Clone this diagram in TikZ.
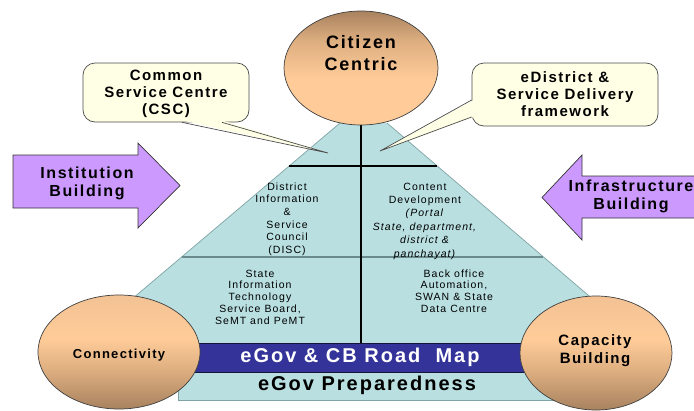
\documentclass[tikz,border=0pt]{standalone}
\usepackage{fontspec}
\setmainfont{Liberation Sans}
\newfontfamily\headfont[LetterSpace=10]{Liberation Sans}
\newfontfamily\lblfont[LetterSpace=10]{Liberation Sans}
\usetikzlibrary{shapes.geometric,calc}

\definecolor{pyr}{HTML}{B9DFE1}
\definecolor{pyredge}{HTML}{7FA3A5}
\definecolor{midline}{HTML}{6A8A8C}
\definecolor{bandblue}{HTML}{333399}
\definecolor{arrowfill}{HTML}{CC99FF}
\definecolor{notefill}{HTML}{FFFFE6}
\definecolor{peach}{HTML}{FFCC99}
\definecolor{peachlt}{HTML}{F2C294}
\definecolor{ochre}{HTML}{DDAE80}
\definecolor{clay}{HTML}{A8825F}

% vertical shadings for the three balls (0bp = bottom, 100bp = top)
\pgfdeclareverticalshading{topdark}{100bp}{color(0bp)=(peach); color(25bp)=(peach); color(45bp)=(peach); color(62bp)=(ochre); color(75bp)=(clay); color(100bp)=(clay)}
\pgfdeclareverticalshading{bottomdark}{100bp}{color(0bp)=(clay); color(25bp)=(clay); color(42bp)=(ochre); color(56bp)=(peach); color(75bp)=(peachlt); color(100bp)=(peachlt)}

\begin{document}
\begin{tikzpicture}[x=1pt,y=-1pt,
  ball/.style={ellipse, draw=black!75, line width=0.7pt, inner sep=0pt},
  note/.style={draw=black!70, fill=notefill, rounded corners=12pt, line width=0.7pt, inner sep=0pt},
  notetext/.style={align=center, font=\headfont\bfseries\fontsize{15}{17}\selectfont},
  arrowshape/.style={fill=arrowfill, draw=black!80, line width=0.7pt},
  arrowtext/.style={align=center, font=\headfont\bfseries\fontsize{16}{18}\selectfont},
  celltext/.style={align=center, text=black},
  divider/.style={black, line width=1.2pt},
]
\useasboundingbox (0,0) rectangle (694,410);

% pyramid body
\fill[pyr] (340,123) -- (387,123) -- (644,343) -- (80,343) -- cycle;
\draw[pyredge, line width=0.7pt] (340,123) -- (80,343);
\draw[pyredge, line width=0.7pt] (387,123) -- (644,343);
\filldraw[fill=pyr, draw=pyredge, line width=0.7pt] (178,372) rectangle (565,400);

% dividers inside the pyramid
\draw[divider] (289,166) -- (437,166);
\draw[midline, line width=1.4pt] (182,257) -- (543,257);
\draw[divider] (361,123) -- (361,343);

% road map band
\filldraw[fill=bandblue, draw=black!60!bandblue, line width=0.8pt] (150,343) rectangle (565,372);
\node[text=white, font=\headfont\bfseries\fontsize{20}{22}\selectfont] (roadmap) at (360,357) {eGov \& CB Road\ \ Map};
\node[font=\headfont\bfseries\fontsize{20}{22}\selectfont] (prep) at (367,385) {eGov Preparedness};

% cell texts
\node[celltext, font=\lblfont\fontsize{10.5}{12.6}\selectfont] (disc) at (287,219) {District\\Information\\\&\\Service\\Council\\(DISC)};
\node[celltext, font=\lblfont\fontsize{10.5}{13.4}\selectfont] (content) at (425,221) {Content\\Development\\\textit{(Portal}\\\textit{State, department,}\\\textit{district \&}\\\textit{panchayat)}};
\node[celltext, font=\lblfont\fontsize{10.5}{11.8}\selectfont] (sitsb) at (260,297) {State\\Information\\Technology\\Service Board,\\SeMT and PeMT};
\node[celltext, font=\lblfont\fontsize{10.5}{11.8}\selectfont] (backoffice) at (454,291) {Back office\\Automation,\\SWAN \& State\\Data Centre};

% the three balls
\node[ball, shading=topdark, minimum width=154pt, minimum height=114pt] (citizen) at (361,68) {};
\node[align=center, font=\headfont\bfseries\fontsize{18}{22}\selectfont] (citizentxt) at (361,53) {Citizen\\Centric};
\node[ball, shading=bottomdark, minimum width=162pt, minimum height=114pt] (connect) at (119,352) {};
\node[font=\headfont\bfseries\fontsize{13}{15}\selectfont] (connecttxt) at (119,355) {Connectivity};
\node[ball, shading=bottomdark, minimum width=152pt, minimum height=114pt] (capacity) at (596,353) {};
\node[align=center, font=\headfont\bfseries\fontsize{15}{18}\selectfont] (capacitytxt) at (595,351) {Capacity\\Building};

% callouts
\node[note, minimum width=166pt, minimum height=59pt] (csc) at (166,92.5) {};
\node[notetext] (csctxt) at (166,94) {Common\\Service Centre\\(CSC)};
\coordinate (csctip) at (328,153);
\fill[notefill] ($(csc.south)+(16,-2)$) -- (csctip) -- ($(csc.south)+(56,-2)$) -- cycle;
\draw[black!70, line width=0.7pt] ($(csc.south)+(16,0)$) -- (csctip) -- ($(csc.south)+(56,0)$);

\node[note, minimum width=186pt, minimum height=63pt] (edist) at (565,94.5) {};
\node[notetext] (edisttxt) at (565,94) {eDistrict \&\\Service Delivery\\framework};
\coordinate (edisttip) at (380,151);
\fill[notefill] ($(edist.west)+(2,5.5)$) -- (edisttip) -- ($(edist.west)+(2,22.5)$) -- cycle;
\draw[black!70, line width=0.7pt] ($(edist.west)+(0,5.5)$) -- (edisttip) -- ($(edist.west)+(0,22.5)$);

% block arrows
\filldraw[arrowshape] (13,155) -- (138,155) -- (138,143) -- (180,185.5) -- (138,228) -- (138,208) -- (13,208) -- cycle;
\node[arrowtext] (inst) at (87,183.5) {Institution\\Building};
\filldraw[arrowshape] (710,176) -- (582,176) -- (582,155) -- (542,197.5) -- (582,240) -- (582,218) -- (710,218);
\node[arrowtext] (infra) at (631,196) {Infrastructure\\Building};
\end{tikzpicture}
\end{document}
